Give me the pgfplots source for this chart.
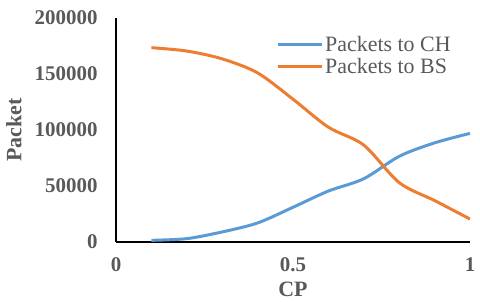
\documentclass[border=0pt]{standalone}
\usepackage{pgfplots}
\pgfplotsset{compat=1.18}
\usepackage{fontspec}
\setmainfont{Liberation Serif}
\definecolor{txtgray}{RGB}{89,89,89}
\definecolor{cblue}{RGB}{91,155,213}
\definecolor{corange}{RGB}{237,125,49}
\begin{document}
\begin{tikzpicture}
\path[use as bounding box] (-116bp,-60bp) rectangle (364bp,242bp);
\begin{axis}[
  at={(0,0)}, anchor=south west,
  scale only axis,
  width=354bp, height=224bp,
  xmin=0, xmax=1, ymin=0, ymax=200000,
  xtick={0,0.5,1}, ytick={0,50000,100000,150000,200000},
  xticklabels={0,0.5,1},
  yticklabels={0,50000,100000,150000,200000},
  scaled y ticks=false,
  axis x line*=bottom, axis y line*=left,
  axis line style={-, line width=1.6bp, black},
  major tick length=0pt,
  tick label style={font=\fontsize{21}{24}\selectfont\bfseries, text=txtgray},
  yticklabel style={xshift=-15bp},
  xticklabel style={yshift=-12bp},
  xlabel={CP}, ylabel={Packet},
  label style={font=\fontsize{22}{24}\selectfont\bfseries, text=txtgray},
  xlabel style={at={(axis description cs:0.5,0)}, anchor=center, yshift=-47bp},
  ylabel style={at={(axis description cs:0,0.5)}, anchor=center, yshift=102bp},
  legend style={at={(0.452,1.0)}, anchor=north west, yshift=-16bp, draw=none, fill=none,
    font=\fontsize{22}{24}\selectfont, text=txtgray, inner sep=0pt, row sep=1bp,
    /tikz/every even column/.append style={column sep=0pt}},
  legend cell align=left,
  legend image code/.code={\draw[#1, line width=3bp] (0bp,0bp) -- (44bp,0bp);},
]
\addplot[cblue, line width=3bp, smooth] coordinates {
(0.1,1500) (0.2,3000) (0.3,9000) (0.4,17000) (0.5,31000) (0.6,45500) (0.7,56500) (0.8,76500) (0.9,88500) (1.0,97000)};
\addlegendentry{Packets to CH}
\addplot[corange, line width=3bp, smooth] coordinates {
(0.1,173500) (0.2,170500) (0.3,163500) (0.4,151000) (0.5,127500) (0.6,102500) (0.7,86500) (0.8,53000) (0.9,37000) (1.0,20500)};
\addlegendentry{Packets to BS}
\end{axis}
\end{tikzpicture}
\end{document}
